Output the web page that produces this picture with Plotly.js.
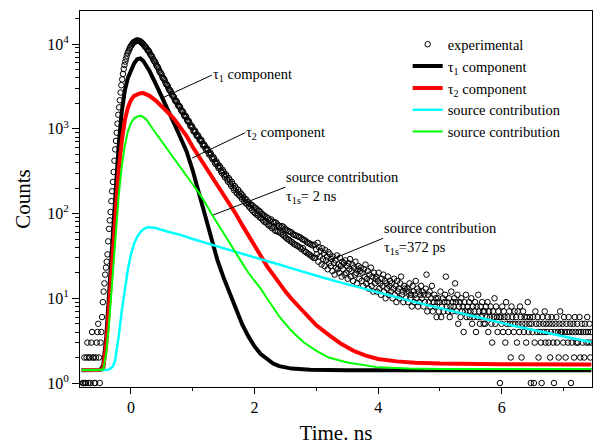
<!DOCTYPE html>
<html><head><meta charset="utf-8">
<script src="https://cdn.plot.ly/plotly-3.0.1.min.js"></script>
<style>html,body{margin:0;padding:0;background:#fff}#chart{width:593px;height:447px}</style>
</head><body><div id="chart"></div>
<script>
// Experimental decay: channel start time (ns), channel width (ns), counts per channel
const expStart = -0.78;
const expStep = 0.0125;
const expCounts = [
1,1,2,1,1,2,3,1,2,2,1,3,4,2,2,1,1,2,3,4,5,2,1,3,4,6,
9,12,15,19,23,27,33,47,66,83,104,140,183,236,309,420,571,720,898,1150,
1462,1790,2170,2680,3265,3830,4440,5080,5660,6200,6720,7290,7800,8150,8570,9010,9380,9650,9960,10280,
10520,10610,10750,10900,11010,10950,10920,10880,10800,10600,10430,10250,10050,9750,
9480,9250,9110,8800,8450,8330,8120,7700,7400,7260,7010,6640,6360,6250,6050,5700,5470,5360,5150,4830,
4630,4560,4390,4100,3940,3890,3740,3500,3350,3300,3190,2990,2870,2840,2750,2580,2460,2440,2370,2210,
2120,2130,2060,1930,1850,1860,1800,1680,1610,1620,1570,1460,1400,1420,1375,1270,1220,1240,1190,1100,
1060,1080,1040,950,925,955,915,850,818,840,806,750,722,745,712,660,628,655,631,580,
556,585,563,515,492,525,500,455,437,465,444,400,384,412,393,360,341,366,350,318,
301,328,313,283,268,292,280,252,238,262,250,225,212,236,223,200,188,210,199,178,
172,191,165,180,158,171,149,164,155,139,150,133,145,128,137,121,131,116,127,110,
124,105,118,101,116,97,111,95,108,90,104,88,99,84,96,80,93,79,90,75,
88,72,83,71,85,67,80,69,79,63,78,62,74,61,72,60,69,58,71,56,
69,54,66,52,64,50,62,49,61,47,60,46,57,44,56,43,55,42,54,41,
53,40,52,38,50,39,49,36,48,35,46,34,45,33,44,32,43,31,42,30,
43,30,38,33,45,27,40,31,36,25,39,29,34,24,37,28,31,22,35,26,
33,24,29,21,31,26,19,28,23,32,22,25,20,30,24,18,27,22,26,19,
28,20,24,17,26,22,29,18,21,25,16,23,19,27,20,15,22,24,17,21,
23,16,20,14,22,18,25,15,17,21,13,19,16,23,14,18,12,20,15,17,
18,12,16,20,13,15,11,17,14,19,12,16,10,15,13,18,11,14,16,12,
15,10,13,17,11,14,9,16,12,13,10,15,18,11,12,9,14,13,10,12,
13,9,12,15,10,11,8,14,12,9,11,16,10,13,8,12,9,11,14,10,
12,8,11,9,13,19,7,11,9,12,8,10,14,7,9,11,8,10,6,9,
10,7,9,12,6,8,10,7,9,11,18,8,9,7,10,6,8,12,7,9,
8,10,15,9,7,11,5,8,9,6,10,7,8,4,9,7,11,6,8,7,
9,6,7,10,5,8,6,7,9,4,8,6,11,7,5,8,6,9,7,5,
7,5,8,6,9,4,7,6,8,5,3,7,6,10,5,8,6,4,7,6,
1,6,5,8,4,7,6,3,9,5,6,4,7,5,2,8,6,5,4,7,
5,6,3,7,5,4,8,6,2,5,7,4,6,5,3,6,9,4,5,6,
1,5,4,6,1,3,7,5,4,6,2,5,4,3,1,6,5,4,7,3,
5,4,6,3,5,2,4,6,5,3,1,4,5,6,3,4,2,5,7,4,
4,5,3,6,4,2,5,4,3,6,4,5,1,3,4,5,2,6,4,3,
5,3,4,6,2,4,5,3,4,2,5,4,3,6,4,3,5,2,4,3
];

// tau1 component
const tau1Time = [-0.8,-0.5,-0.45,-0.4,-0.35,-0.3,-0.25,-0.2,-0.15,-0.1,-0.05,0,0.05,0.1,0.15,0.2,0.3,0.4,0.5,0.6,0.7,0.8,0.9,1.0,1.1,1.2,1.3,1.4,1.5,1.6,1.7,1.8,1.9,2.0,2.1,2.2,2.3,2.4,2.6,2.9,3.5,7.45];
const tau1Counts = [1.41,1.42,1.6,3.5,12.6,50,200,630,1580,2820,3980,5000,5900,6600,6760,6300,4800,3400,2400,1660,1150,790,540,320,170,93,50,28,17.4,11.2,7.2,4.9,3.55,2.7,2.2,1.9,1.7,1.58,1.48,1.43,1.41,1.41];

// tau2 component
const tau2Time = [-0.8,-0.5,-0.45,-0.4,-0.35,-0.3,-0.25,-0.2,-0.15,-0.1,-0.05,0,0.05,0.1,0.15,0.2,0.3,0.4,0.5,0.6,0.7,0.8,0.9,1.0,1.1,1.2,1.3,1.4,1.5,1.6,1.7,1.8,1.9,2.0,2.1,2.2,2.3,2.4,2.5,2.6,2.7,2.8,2.9,3.0,3.2,3.4,3.6,3.8,4.0,4.3,4.6,5.0,6.0,7.45];
const tau2Counts = [1.42,1.42,1.48,2.8,8.9,32,112,316,708,1260,1780,2190,2450,2570,2630,2640,2450,2150,1850,1550,1300,1050,820,610,470,370,290,225,170,130,98,73,55,42,32,24,19,15,12,9.8,8.2,6.8,5.7,4.8,3.7,2.9,2.4,2.1,1.92,1.8,1.74,1.7,1.67,1.65];

// source contribution, tau1s = 372 ps (cyan)
const src372Time = [-0.8,-0.4,-0.35,-0.3,-0.26,-0.2,-0.15,-0.1,-0.05,0,0.05,0.1,0.15,0.2,0.25,0.3,0.35,0.4,0.6,0.8,1.0,1.2,1.4,1.6,1.8,2.0,2.2,2.4,2.6,2.8,3.0,3.2,3.4,3.6,3.8,4.0,4.2,4.4,4.6,4.8,5.0,5.2,5.4,5.6,5.8,6.0,6.2,6.4,6.6,6.8,7.0,7.2,7.45];
const src372Counts = [1.42,1.42,1.45,1.55,1.8,3.5,7,13,22,33,44,53,60,65,68,69,68.6,67.5,61,56,50,45.5,41,37,33.5,30.5,27.5,25,22.5,20.3,18.5,16.8,15.3,14,12.7,11.6,10.6,9.8,9.0,8.3,7.6,7.0,6.5,6.0,5.5,5.1,4.7,4.4,4.1,3.8,3.5,3.3,3.05];

// source contribution, tau1s = 2 ns (green)
const src2Time = [-0.8,-0.5,-0.45,-0.4,-0.35,-0.3,-0.25,-0.2,-0.15,-0.1,-0.05,0,0.05,0.1,0.17,0.25,0.35,0.5,0.6,0.7,0.8,0.9,1.0,1.1,1.2,1.3,1.4,1.5,1.6,1.7,1.8,1.9,2.0,2.1,2.2,2.3,2.4,2.5,2.6,2.7,2.8,3.0,3.2,3.5,3.8,4.0,4.5,5.0,7.45];
const src2Counts = [1.42,1.42,1.45,2.24,5.6,17.8,56,158,355,630,933,1175,1320,1400,1420,1290,1000,700,560,440,350,280,220,175,135,100,77,58,44,34,26,20,16,13,10,7.8,6.1,5,4.1,3.5,3.0,2.4,2.0,1.75,1.6,1.53,1.48,1.46,1.46];

const legendNames = ['experimental','τ<sub>1</sub> component','τ<sub>2</sub> component','source contribution','source contribution'];
const xTickVals = [0,2,4,6];
const xTickText = ['0','2','4','6'];
const yTickVals = [1,10,100,1000,10000];
const yTickText = ['10<sup>0</sup>','10<sup>1</sup>','10<sup>2</sup>','10<sup>3</sup>','10<sup>4</sup>'];

const FONT = 'Liberation Serif';

const minorY = [];
for (let d = 1; d <= 10000; d *= 10) for (let k = 2; k <= 9; k++) minorY.push(k * d);

const traces = [
  {type:'scatter', mode:'markers', name:legendNames[0], x0:expStart, dx:expStep, y:expCounts,
   marker:{symbol:'circle-open', size:5.5, color:'#000', line:{width:1, color:'#000'}}},
  {type:'scatter', mode:'lines', name:legendNames[1], x:tau1Time, y:tau1Counts, line:{color:'#000', width:4}},
  {type:'scatter', mode:'lines', name:legendNames[2], x:tau2Time, y:tau2Counts, line:{color:'#ff0000', width:4}},
  {type:'scatter', mode:'lines', name:legendNames[3], x:src372Time, y:src372Counts, line:{color:'#00ffff', width:2.5}},
  {type:'scatter', mode:'lines', name:legendNames[4], x:src2Time, y:src2Counts, line:{color:'#00ff00', width:2}}
];

const annFont = {family:FONT, size:14.5, color:'#000'};
function ann(text, hx, hy, tx, ty) {
  return {text:text, x:hx, y:Math.log10(hy), ax:tx, ay:Math.log10(ty), xref:'x', yref:'y', axref:'x', ayref:'y',
    showarrow:true, arrowhead:0, arrowwidth:1, arrowcolor:'#000', xanchor:'left', yanchor:'middle', align:'left',
    font:annFont, standoff:0, startstandoff:0, borderpad:0};
}

const layout = {
  width:593, height:447,
  margin:{l:80, r:1, t:11, b:60},
  paper_bgcolor:'#fff', plot_bgcolor:'#fff',
  font:{family:FONT, color:'#000'},
  showlegend:true,
  legend:{x:0.64, y:0.954, xanchor:'left', yanchor:'top', bgcolor:'rgba(0,0,0,0)', borderwidth:0,
    font:{family:FONT, size:14.5, color:'#000'}, itemwidth:30, tracegroupgap:0},
  xaxis:{range:[-0.825, 7.46], showline:true, mirror:true, linecolor:'#000', linewidth:1,
    showgrid:false, zeroline:false, ticks:'outside', ticklen:6, tickwidth:1, tickcolor:'#000',
    tickmode:'array', tickvals:xTickVals, ticktext:xTickText,
    minor:{dtick:1, tick0:0, ticks:'outside', ticklen:3, tickcolor:'#000', showgrid:false},
    tickfont:{family:FONT, size:16, color:'#000'},
    title:{text:'Time. ns', font:{family:FONT, size:21, color:'#000'}, standoff:10}},
  yaxis:{type:'log', range:[-0.047, 4.39], showline:true, mirror:true, linecolor:'#000', linewidth:1,
    showgrid:false, zeroline:false, ticks:'outside', ticklen:7, tickwidth:1, tickcolor:'#000',
    tickmode:'array', tickvals:yTickVals, ticktext:yTickText,
    minor:{tickmode:'array', tickvals:minorY, ticks:'outside', ticklen:4, tickcolor:'#000', showgrid:false},
    tickfont:{family:FONT, size:16, color:'#000'},
    title:{text:'Counts', font:{family:FONT, size:21, color:'#000'}, standoff:10}},
  annotations:[
    ann('τ<sub>1</sub> component', 0.50, 2300, 1.31, 4300),
    ann('τ<sub>2</sub> component', 0.99, 452, 1.85, 900),
    ann('source contribution<br>τ<sub>1s</sub>= 2 ns', 1.33, 96, 2.50, 205),
    ann('source contribution<br>τ<sub>1s</sub>=372 ps', 3.22, 28.3, 4.08, 51)
  ]
};

Plotly.newPlot('chart', traces, layout, {staticPlot:true, displayModeBar:false});
</script>
</body></html>
